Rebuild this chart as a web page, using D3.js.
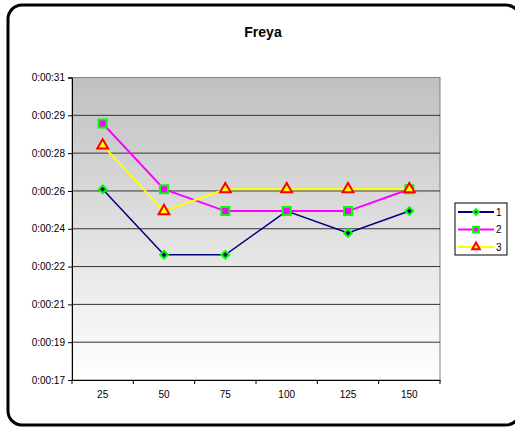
<!DOCTYPE html>
<html>
<head>
<meta charset="utf-8">
<script src="https://cdn.jsdelivr.net/npm/d3@7"></script>
<style>
  body { margin: 0; background: #fff; overflow: hidden; }
  svg { display: block; }
  text { font-family: "Liberation Sans", Arial, sans-serif; }
</style>
</head>
<body>
<script>
const categories = [25, 50, 75, 100, 125, 150];
const seriesNames = ["1", "2", "3"];
// values in seconds
const serie1 = [26, 23, 23, 25, 24, 25];
const serie2 = [29, 26, 25, 25, 25, 26];
const serie3 = [28, 25, 26, 26, 26, 26];
// excel time axis: min 0.0002 days, step 0.00002 days
const yMin = 0.0002 * 86400;
const yStep = 0.00002 * 86400;
const yTicks = d3.range(9).map(i => yMin + i * yStep);

const width = 515, height = 427;
const plot = {left: 72, top: 77.5, right: 440, bottom: 380};

const svg = d3.select("body").append("svg")
    .attr("width", width)
    .attr("height", height);

// outer frame, right side runs off the picture
const fr = {l: 8, t: 5, r: 520, b: 425, rad: 14};
const frame = d3.path();
frame.moveTo(fr.r, fr.t + fr.rad);
frame.arcTo(fr.r, fr.t, fr.r - fr.rad, fr.t, fr.rad);
frame.lineTo(fr.l + fr.rad, fr.t);
frame.arcTo(fr.l, fr.t, fr.l, fr.t + fr.rad, fr.rad);
frame.lineTo(fr.l, fr.b - fr.rad);
frame.arcTo(fr.l, fr.b, fr.l + fr.rad, fr.b, fr.rad);
frame.lineTo(fr.r - fr.rad, fr.b);
frame.arcTo(fr.r, fr.b, fr.r, fr.b - fr.rad, fr.rad);
svg.append("path")
    .attr("d", frame.toString())
    .attr("fill", "none")
    .attr("stroke", "#000")
    .attr("stroke-width", 3);

svg.append("text")
    .attr("x", 263).attr("y", 37)
    .attr("text-anchor", "middle")
    .attr("font-size", 14)
    .attr("font-weight", "bold")
    .text("Freya");

const defs = svg.append("defs");
const grad = defs.append("linearGradient")
    .attr("id", "bg").attr("x1", 0).attr("y1", 0).attr("x2", 0).attr("y2", 1);
grad.append("stop").attr("offset", "0%").attr("stop-color", "#c0c0c0");
grad.append("stop").attr("offset", "100%").attr("stop-color", "#ffffff");

svg.append("rect")
    .attr("x", plot.left).attr("y", plot.top)
    .attr("width", plot.right - plot.left).attr("height", plot.bottom - plot.top)
    .attr("fill", "url(#bg)")
    .attr("stroke", "#808080")
    .attr("stroke-width", 1);

const x = d3.scaleBand()
    .domain(categories)
    .range([plot.left, plot.right]);

const y = d3.scaleLinear()
    .domain([yTicks[0], yTicks[yTicks.length - 1]])
    .range([plot.bottom, plot.top]);

// grid lines
svg.append("g")
    .selectAll("line")
    .data(yTicks.slice(1, -1))
    .join("line")
    .attr("x1", plot.left).attr("x2", plot.right)
    .attr("y1", d => y(d)).attr("y2", d => y(d))
    .attr("stroke", "#333")
    .attr("stroke-width", 1);

const fmt = s => {
    const sec = Math.round(s);
    return "0:00:" + String(sec).padStart(2, "0");
};

const yAxis = svg.append("g")
    .attr("transform", `translate(${plot.left},0)`)
    .call(d3.axisLeft(y).tickValues(yTicks).tickFormat(fmt).tickSize(4).tickPadding(3));
yAxis.select(".domain").attr("stroke", "#000");
yAxis.selectAll("text").attr("font-size", 10).attr("font-family", "Liberation Sans, Arial, sans-serif").attr("fill", "#000");

const xAxis = svg.append("g")
    .attr("transform", `translate(0,${plot.bottom})`)
    .call(d3.axisBottom(x).tickSize(0).tickPadding(11));
xAxis.select(".domain").attr("stroke", "#000");
xAxis.selectAll("text").attr("font-size", 10).attr("font-family", "Liberation Sans, Arial, sans-serif").attr("fill", "#000");
// ticks between categories
xAxis.selectAll(".sep")
    .data(categories.map(c => x(c)).concat([plot.right]))
    .join("line")
    .attr("class", "sep")
    .attr("x1", d => d).attr("x2", d => d)
    .attr("y1", 0).attr("y2", 4)
    .attr("stroke", "#000");

const styles = [
    {line: "#000080", fill: "#000080", stroke: "#00ff00", shape: d3.symbolSquare, size: 30, rot: 45, w: 1.5},
    {line: "#ff00ff", fill: "#ff00ff", stroke: "#00ff00", shape: d3.symbolSquare, size: 64, rot: 0, w: 2},
    {line: "#ffff00", fill: "#ffff00", stroke: "#ff0000", shape: d3.symbolTriangle, size: 50, rot: 0, w: 2}
];
const allSeries = [serie1, serie2, serie3];

const line = d3.line()
    .x((d, i) => x(categories[i]) + x.bandwidth() / 2)
    .y(d => y(d));

allSeries.forEach((vals, k) => {
    const st = styles[k];
    svg.append("path")
        .datum(vals)
        .attr("d", line)
        .attr("fill", "none")
        .attr("stroke", st.line)
        .attr("stroke-width", st.w);
});

allSeries.forEach((vals, k) => {
    const st = styles[k];
    svg.append("g")
        .selectAll("path")
        .data(vals)
        .join("path")
        .attr("transform", (d, i) => `translate(${x(categories[i]) + x.bandwidth() / 2},${y(d)}) rotate(${st.rot})`)
        .attr("d", d3.symbol(st.shape, st.size))
        .attr("fill", st.fill)
        .attr("stroke", st.stroke)
        .attr("stroke-width", 2);
});

// legend
const lg = svg.append("g").attr("transform", "translate(455,203)");
lg.append("rect")
    .attr("width", 52).attr("height", 52)
    .attr("fill", "#fff").attr("stroke", "#000").attr("stroke-width", 1);
seriesNames.forEach((name, k) => {
    const st = styles[k];
    const yy = 9 + k * 17.5;
    lg.append("line")
        .attr("x1", 3).attr("x2", 39)
        .attr("y1", yy).attr("y2", yy)
        .attr("stroke", st.line).attr("stroke-width", 2);
    lg.append("path")
        .attr("transform", `translate(21,${yy}) rotate(${st.rot})`)
        .attr("d", d3.symbol(st.shape, st.size * 0.5))
        .attr("fill", st.fill).attr("stroke", st.stroke).attr("stroke-width", 2);
    lg.append("text")
        .attr("x", 41).attr("y", yy + 3.5)
        .attr("font-size", 10)
        .text(name);
});
</script>
</body>
</html>
